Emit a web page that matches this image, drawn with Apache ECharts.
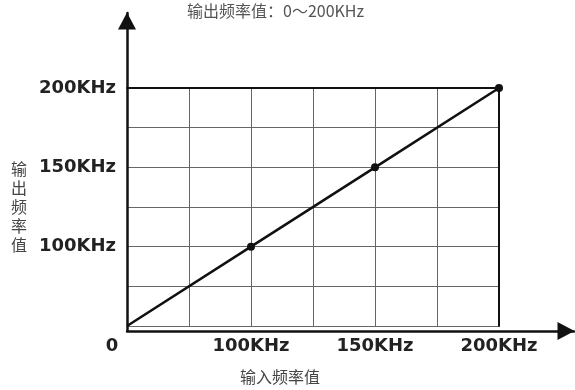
<!DOCTYPE html>
<html>
<head>
<meta charset="utf-8">
<script src="https://cdn.jsdelivr.net/npm/echarts@6/dist/echarts.min.js"></script>
<style>
  html, body { margin: 0; padding: 0; background: #fff; }
  #chart-container { width: 575px; height: 390px; }
</style>
</head>
<body>
<div id="chart-container"></div>
<script>
// tick labels on the 6-step schematic grid
const xTickLabels = ["0", "", "100KHz", "", "150KHz", "", "200KHz"];
const yTickLabels = ["", "", "100KHz", "", "150KHz", "", "200KHz"];
// line points, in grid steps
const inputSteps = [0, 2, 4, 6];
const outputSteps = [0, 2, 4, 6];

(() => {
  var dom = document.getElementById("chart-container");
  var chart = echarts.init(dom, null, { renderer: "canvas" });

  const labelStyle = {
    fontFamily: "DejaVu Sans",
    fontWeight: "bold",
    fontSize: 18,
    color: "#222",
  };

  const option = {
    animation: false,
    title: {
      text: "输出频率值：0～200KHz",
      left: 182,
      top: -2,
      textStyle: {
        fontFamily: "Noto Sans CJK SC",
        fontWeight: "normal",
        fontSize: 16,
        color: "#555",
      },
    },
    grid: [
      { left: 127, right: 76, top: 88, bottom: 59 },
      // extended grid, only for the arrowed axes
      { left: 127, right: 1, top: 13, bottom: 59 },
    ],
    xAxis: [
      {
        type: "value",
        gridIndex: 0,
        min: 0,
        max: 6,
        interval: 1,
        axisLine: { show: false },
        axisTick: { show: false },
        splitLine: { lineStyle: { color: "#666", width: 1 } },
        axisLabel: {
          margin: 11,
          ...labelStyle,
          formatter: (v) => (v === 0 ? "{zero|0}" : xTickLabels[v] || ""),
          rich: { zero: { ...labelStyle, padding: [0, 30, 0, 0] } },
        },
        name: "输入频率值",
        nameLocation: "middle",
        nameGap: 43,
        nameTextStyle: {
          fontFamily: "Noto Sans CJK SC",
          fontSize: 16,
          color: "#444",
          padding: [0, 66, 0, 0],
        },
      },
      {
        type: "value",
        gridIndex: 0,
        position: "top",
        min: 0,
        max: 6,
        axisLine: { show: true, onZero: false, lineStyle: { color: "#111", width: 2 } },
        axisTick: { show: false },
        axisLabel: { show: false },
        splitLine: { show: false },
      },
      {
        type: "value",
        gridIndex: 1,
        min: 0,
        max: 1,
        axisLine: {
          show: true,
          onZero: false,
          symbol: ["none", "triangle"],
          symbolSize: [18, 17],
          symbolOffset: [0, -8],
          lineStyle: { color: "#111", width: 2.5 },
        },
        axisTick: { show: false },
        axisLabel: { show: false },
        splitLine: { show: false },
      },
    ],
    yAxis: [
      {
        type: "value",
        gridIndex: 0,
        min: 0,
        max: 6,
        interval: 1,
        axisLine: { show: false },
        axisTick: { show: false },
        splitLine: { lineStyle: { color: "#666", width: 1 } },
        axisLabel: {
          margin: 11,
          ...labelStyle,
          formatter: (v) => yTickLabels[v] || "",
        },
        name: "输\n出\n频\n率\n值",
        nameLocation: "middle",
        nameRotate: 0,
        nameGap: 100,
        nameTextStyle: {
          fontFamily: "Noto Sans CJK SC",
          fontSize: 16,
          lineHeight: 19,
          color: "#444",
          padding: [0, 0, 16, 0],
        },
      },
      {
        type: "value",
        gridIndex: 0,
        position: "right",
        min: 0,
        max: 6,
        axisLine: { show: true, onZero: false, lineStyle: { color: "#111", width: 2 } },
        axisTick: { show: false },
        axisLabel: { show: false },
        splitLine: { show: false },
      },
      {
        type: "value",
        gridIndex: 1,
        min: 0,
        max: 1,
        axisLine: {
          show: true,
          onZero: false,
          symbol: ["none", "triangle"],
          symbolSize: [18, 17],
          symbolOffset: [0, -8],
          lineStyle: { color: "#111", width: 2.5 },
        },
        axisTick: { show: false },
        axisLabel: { show: false },
        splitLine: { show: false },
      },
    ],
    series: [
      {
        type: "line",
        xAxisIndex: 0,
        yAxisIndex: 0,
        data: inputSteps.map((x, i) => ({
          value: [x, outputSteps[i]],
          symbol: i === 0 ? "none" : "circle",
        })),
        symbolSize: 8,
        itemStyle: { color: "#111" },
        lineStyle: { color: "#111", width: 2.5 },
        z: 5,
      },
    ],
  };

  chart.setOption(option);
  window.addEventListener("resize", chart.resize);
})();
</script>
</body>
</html>
